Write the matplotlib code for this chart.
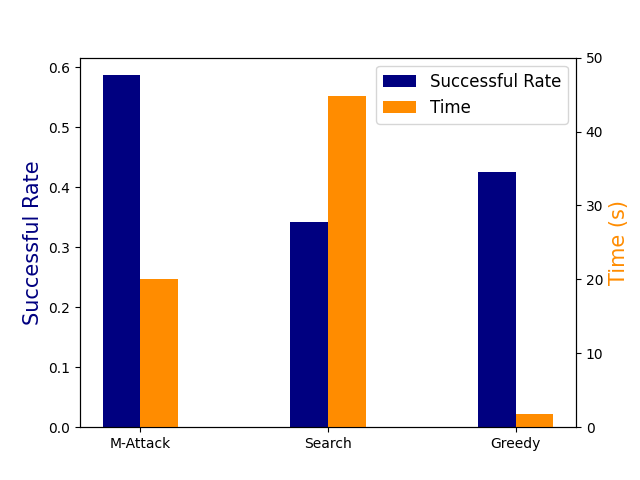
import numpy as np
import matplotlib
matplotlib.use('Agg')
import matplotlib.pyplot as plt

methods = ["M-Attack", "Search", "Greedy"]
success_rate = [0.587, 0.342, 0.425]
time_s = [20.05, 44.85, 1.76]

x = np.arange(len(methods))
w = 0.2

fig, ax1 = plt.subplots(figsize=(6.4, 4.8), dpi=100)
b1 = ax1.bar(x - w/2, success_rate, w, color="navy", label="Successful Rate")
ax1.set_ylabel("Successful Rate", color="navy", fontsize=15)
ax1.set_xticks(x)
ax1.set_xticklabels(methods)

ax2 = ax1.twinx()
b2 = ax2.bar(x + w/2, time_s, w, color="darkorange", label="Time")
ax2.set_ylabel("Time (s)", color="darkorange", fontsize=15)
ax2.set_ylim(0, 50)

ax1.legend([b1, b2], ["Successful Rate", "Time"], loc="upper right", fontsize=12)

fig.savefig("out.png", dpi=100)
